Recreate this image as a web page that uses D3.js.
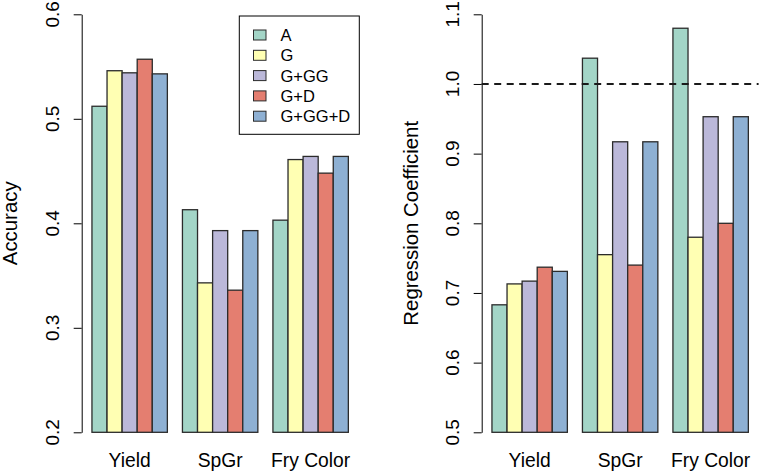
<!DOCTYPE html>
<html>
<head>
<meta charset="utf-8">
<script src="https://cdn.jsdelivr.net/npm/d3@7"></script>
<style>
  html, body { margin: 0; padding: 0; background: #fff; }
  svg { display: block; font-family: "Liberation Sans", Arial, Helvetica, sans-serif; }
</style>
</head>
<body>
<svg id="chart" width="762" height="474"></svg>
<script>
// ---- data ----
const categories = ["Yield", "SpGr", "Fry Color"];
const seriesNames = ["A", "G", "G+GG", "G+D", "G+GG+D"];
const seriesColors = ["#a3d5c7", "#ffffb3", "#bbb8d9", "#e47e70", "#8eb0d3"];

// Accuracy (left panel), one array per series, ordered by category
const accA    = [0.512, 0.413, 0.403];
const accG    = [0.546, 0.343, 0.461];
const accGGG  = [0.544, 0.393, 0.464];
const accGD   = [0.557, 0.336, 0.448];
const accGGGD = [0.543, 0.393, 0.464];

// Regression coefficient (right panel)
const regA    = [0.683, 1.037, 1.080];
const regG    = [0.713, 0.755, 0.780];
const regGGG  = [0.717, 0.917, 0.953];
const regGD   = [0.737, 0.740, 0.800];
const regGGGD = [0.731, 0.917, 0.953];

const accTicks = [0.2, 0.3, 0.4, 0.5, 0.6];
const regTicks = [0.5, 0.6, 0.7, 0.8, 0.9, 1.0, 1.1];
const refLine = 1.0;

const accSeries = [accA, accG, accGGG, accGD, accGGGD];
const regSeries = [regA, regG, regGGG, regGD, regGGGD];

// ---- drawing ----
const svg = d3.select("#chart");
const plotTop = 14.3, plotBottom = 432.3;

function panel(opts) {
  const g = svg.append("g");
  // R barplot(beside=TRUE) units: each group = 1 space + 5 bars
  const nS = seriesNames.length, nG = categories.length;
  const xmax = nG * (nS + 1);
  const pad = (xmax - 1) * 0.04;
  const x = d3.scaleLinear().domain([1 - pad, xmax + pad]).range([opts.left, opts.right]);
  const y = d3.scaleLinear().domain(opts.domain).range([plotBottom, plotTop]);

  const bars = [];
  opts.series.forEach((vals, s) => {
    vals.forEach((v, c) => {
      bars.push({ s, c, v, u: 1 + c * (nS + 1) + s });
    });
  });

  g.selectAll("rect.bar").data(bars).enter().append("rect")
    .attr("class", "bar")
    .attr("x", d => x(d.u))
    .attr("width", d => x(d.u + 1) - x(d.u))
    .attr("y", d => y(d.v))
    .attr("height", d => y(opts.domain[0]) - y(d.v))
    .attr("fill", d => seriesColors[d.s])
    .attr("stroke", "#2b2b2b")
    .attr("stroke-width", 1.3);

  // y axis
  const axis = d3.axisLeft(y).tickValues(opts.ticks).tickSize(8).tickSizeOuter(0)
    .tickFormat(d3.format(".1f"));
  const ag = g.append("g").attr("transform", `translate(${opts.left},0)`).call(axis);
  ag.select(".domain").attr("stroke", "#000").attr("stroke-width", 1);
  ag.selectAll(".tick line").attr("stroke", "#000").attr("stroke-width", 1);
  ag.selectAll(".tick text").remove();
  g.selectAll("text.ytick").data(opts.ticks).enter().append("text")
    .attr("class", "ytick")
    .attr("transform", d => `translate(${opts.left - 23},${y(d)}) rotate(-90)`)
    .attr("text-anchor", "middle")
    .attr("font-size", 19)
    .attr("fill", "#000")
    .text(d => d3.format(".1f")(d));

  // y title
  g.append("text")
    .attr("transform", `translate(${opts.titleX},${(plotTop + plotBottom) / 2}) rotate(-90)`)
    .attr("text-anchor", "middle")
    .attr("font-size", 20.4)
    .attr("fill", "#000")
    .text(opts.title);

  // category labels
  g.selectAll("text.cat").data(categories).enter().append("text")
    .attr("class", "cat")
    .attr("x", (d, i) => x(1 + i * (nS + 1) + nS / 2))
    .attr("y", 467)
    .attr("text-anchor", "middle")
    .attr("font-size", 19.3)
    .attr("fill", "#000")
    .text(d => d);

  return { g, x, y };
}

const leftPanel = panel({
  left: 81.7, right: 358.6, domain: [0.2, 0.6], ticks: accTicks,
  series: accSeries, title: "Accuracy", titleX: 17
});

const rightPanel = panel({
  left: 481.7, right: 758.6, domain: [0.5, 1.1], ticks: regTicks,
  series: regSeries, title: "Regression Coefficient", titleX: 418
});

// reference dashed line at 1.0
svg.append("line")
  .attr("x1", 481.7).attr("x2", 758.6)
  .attr("y1", rightPanel.y(refLine)).attr("y2", rightPanel.y(refLine))
  .attr("stroke", "#1a1a1a")
  .attr("stroke-width", 2)
  .attr("stroke-dasharray", "7,5.5");

// legend
const lg = svg.append("g");
lg.append("rect")
  .attr("x", 239.3).attr("y", 16).attr("width", 120).attr("height", 118.3)
  .attr("fill", "#fff").attr("stroke", "#000").attr("stroke-width", 1);
const items = lg.selectAll("g.item").data(seriesNames).enter().append("g")
  .attr("class", "item")
  .attr("transform", (d, i) => `translate(0,${35 + i * 20.3})`);
items.append("rect")
  .attr("x", 253.5).attr("y", -5).attr("width", 12.5).attr("height", 10)
  .attr("fill", (d, i) => seriesColors[i])
  .attr("stroke", "#2b2b2b").attr("stroke-width", 1);
items.append("text")
  .attr("x", 280.5).attr("y", 0)
  .attr("dy", "0.36em")
  .attr("font-size", 16.5)
  .attr("fill", "#000")
  .text(d => d);
</script>
</body>
</html>
